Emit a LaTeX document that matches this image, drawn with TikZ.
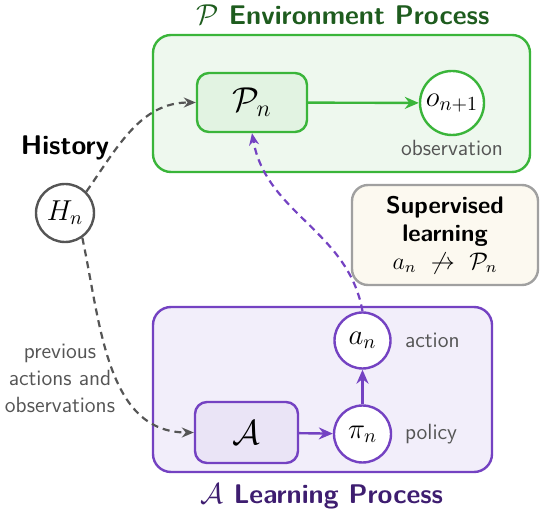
\documentclass[tikz,border=0pt]{standalone}
\usepackage[no-math]{fontspec}
\renewcommand{\familydefault}{\sfdefault}
\usepackage{amsmath}
\usepackage{amssymb}
\usetikzlibrary{arrows.meta}
\definecolor{envgreen}{HTML}{3AB53A}
\definecolor{envfill}{HTML}{EEF8EE}
\definecolor{envinner}{HTML}{E2F3E2}
\definecolor{envdark}{HTML}{1E5C1E}
\definecolor{lrnpurple}{HTML}{7442C2}
\definecolor{lrnfill}{HTML}{F2EEFA}
\definecolor{lrninner}{HTML}{EAE4F6}
\definecolor{lrndark}{HTML}{3E1D70}
\definecolor{histgray}{HTML}{555555}
\definecolor{supfill}{HTML}{FCF9F0}
\definecolor{supgray}{HTML}{A0A0A0}
\tikzset{
  procbox/.style={draw, line width=1.2pt, rounded corners=9pt},
  innerbox/.style={draw, line width=1.2pt, rounded corners=6pt, font=\LARGE},
  state/.style={circle, draw, line width=1.2pt, fill=white, inner sep=0pt,
    minimum size=28pt, font=\Large},
  sidelabel/.style={text=histgray, font=\fontsize{11}{13.5}\selectfont},
  title/.style={font=\fontsize{13.5}{16}\selectfont\bfseries, inner sep=0pt},
  flow/.style={-{Stealth[length=7pt,width=6pt]}, line width=1.2pt},
  hint/.style={-{Stealth[length=6pt,width=5pt]}, line width=1.1pt,
    dash pattern=on 3.5pt off 2.5pt}
}

\begin{document}
\begin{tikzpicture}[x=0.5pt, y=-0.5pt]
\useasboundingbox (0,0) rectangle (540,512);

% environment process
\node[procbox, draw=envgreen, fill=envfill, minimum width=188.5pt,
  minimum height=68.5pt] (envbox) at (341.5,103.5) {};
\node[title, text=envdark, anchor=base] (envtitle) at (343,25)
  {$\mathcal{P}$ Environment Process};
\node[innerbox, draw=envgreen, fill=envinner, minimum width=55pt,
  minimum height=29.5pt] (Pn) at (252,102.5) {$\mathcal{P}_n$};
\node[state, draw=envgreen, minimum size=32pt] (obs) at (452,103) {$o_{n+1}$};
\node[sidelabel, anchor=base] (obslabel) at (452,156) {observation};
\draw[flow, envgreen] (Pn) -- (obs);

% history
\node[title, text=black, anchor=base] (histtitle) at (65,155) {History};
\node[state, draw=histgray, minimum size=29pt] (Hn) at (65,213) {$H_n$};
\node[sidelabel, align=center] (prevlabel) at (60,378)
  {previous\\actions and\\observations};

% supervised learning
\node[draw=supgray, fill=supfill, line width=1.2pt, rounded corners=8pt,
  minimum width=93pt, minimum height=50pt, align=center,
  font=\fontsize{12}{14}\selectfont] (suplearn) at (445,235)
  {\textbf{Supervised}\\\textbf{learning}\\$a_n\ \not\to\ \mathcal{P}_n$};

% learning process
\node[procbox, draw=lrnpurple, fill=lrnfill, minimum width=169.5pt,
  minimum height=82.5pt] (lrnbox) at (322.5,389.5) {};
\node[title, text=lrndark, anchor=base] (lrntitle) at (322,503)
  {$\mathcal{A}$ Learning Process};
\node[innerbox, draw=lrnpurple, fill=lrninner, minimum width=51.5pt,
  minimum height=30.5pt] (Alg) at (246.5,432.5) {$\mathcal{A}$};
\node[state, draw=lrnpurple, minimum size=28.5pt] (pin) at (362.5,434) {$\pi_n$};
\node[state, draw=lrnpurple, minimum size=28pt] (an) at (362.5,340.5) {$a_n$};
\node[sidelabel, anchor=base west] (polabel) at (398,440) {policy};
\node[sidelabel, anchor=base west] (aclabel) at (398,348) {action};
\draw[flow, lrnpurple] (Alg) -- (pin);
\draw[flow, lrnpurple] (pin) -- (an);

% dashed links
\draw[hint, histgray] (Hn.45) to[out=55, in=180] (Pn.west);
\draw[hint, histgray] (Hn.-55) to[out=-78, in=180] (Alg.west);
\draw[hint, lrnpurple] (an.north) to[out=100, in=-80] (Pn.south);
\end{tikzpicture}
\end{document}
